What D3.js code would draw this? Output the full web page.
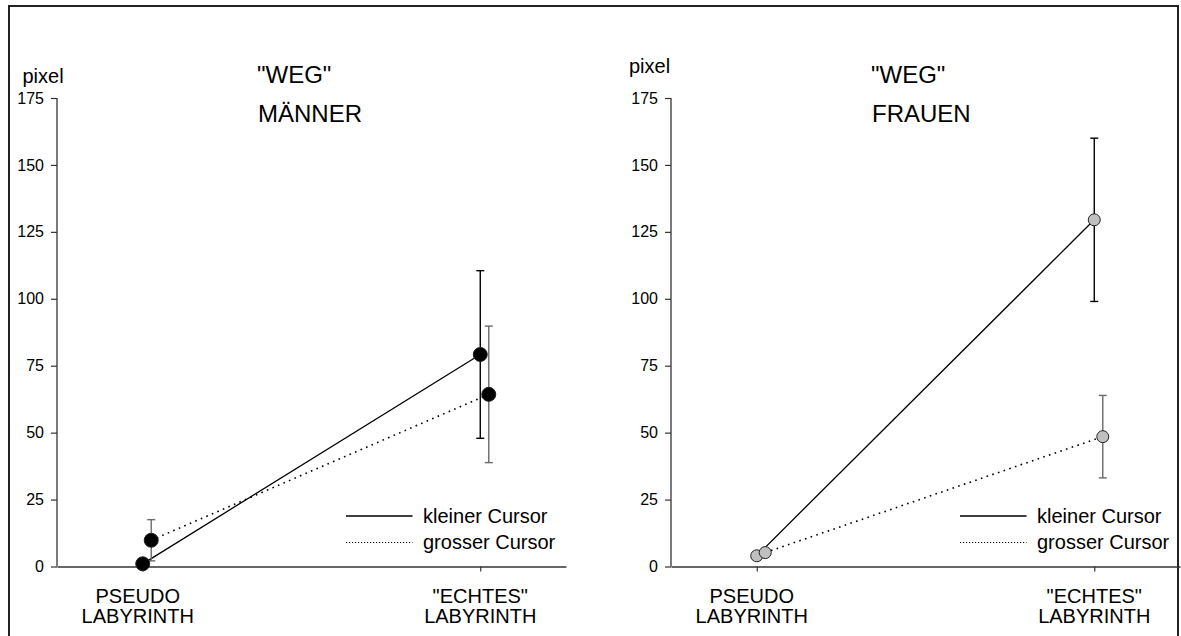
<!DOCTYPE html>
<html>
<head>
<meta charset="utf-8">
<script src="https://cdn.jsdelivr.net/npm/d3@7/dist/d3.min.js"></script>
<style>
  html, body { margin: 0; padding: 0; background: #fff; }
  svg { display: block; font-family: "Liberation Sans", Arial, sans-serif; }
</style>
</head>
<body>
<svg id="chart" width="1181" height="636"></svg>
<script>
// Conditions on the x axis (two-line labels)
const categories = ["PSEUDO", "ECHTES"];
const categoryLines = [["PSEUDO", "LABYRINTH"], ["\"ECHTES\"", "LABYRINTH"]];

// Y axis ticks
const yTicks = [0, 25, 50, 75, 100, 125, 150, 175];

// Panel titles
const panelTitles = ["MÄNNER", "FRAUEN"];
const mainTitle = "\"WEG\"";

// Series names
const seriesNames = ["kleiner Cursor", "grosser Cursor"];

// Men: mean and error per condition
const menKlein = [1.0, 79.2];
const menKleinErr = [1.2, 31.3];
const menGross = [9.8, 64.3];
const menGrossErr = [7.7, 25.5];

// Women: mean and error per condition
const womenKlein = [4.0, 129.5];
const womenKleinErr = [1.5, 30.5];
const womenGross = [5.2, 48.5];
const womenGrossErr = [1.5, 15.4];

const panels = [
  { title: panelTitles[0], x0: 57, pixelX: 22.5, pixelY: 83, fill: "#000000", r: 7,
    series: [
      { vals: menKlein, errs: menKleinErr },
      { vals: menGross, errs: menGrossErr }
    ] },
  { title: panelTitles[1], x0: 671, pixelX: 629, pixelY: 73, fill: "#c0c0c0", r: 6,
    series: [
      { vals: womenKlein, errs: womenKleinErr },
      { vals: womenGross, errs: womenGrossErr }
    ] }
];

const svg = d3.select("#chart");

// outer frame
svg.append("rect")
  .attr("x", 9).attr("y", 6)
  .attr("width", 1169).attr("height", 660)
  .attr("fill", "none").attr("stroke", "#222").attr("stroke-width", 2);

const plotW = 509;
const yTop = 98, yBottom = 566.5;
const grossOffset = 8.5;
const seriesStyle = [
  { dash: null, legendDash: null, errColor: "#000", width: 1.3 },
  { dash: "1.6,4.4", legendDash: "1.2,1.8", errColor: "#6a6a6a", width: 1.6 }
];

panels.forEach(p => {
  const g = svg.append("g").attr("transform", `translate(${p.x0},0)`);

  const x = d3.scalePoint().domain(categories).range([0, plotW]).padding(0.254);
  const y = d3.scaleLinear().domain([0, 175]).range([yBottom, yTop]);

  // y axis
  const yAxis = g.append("g")
    .call(d3.axisLeft(y).tickValues(yTicks).tickSize(6).tickPadding(7).tickSizeOuter(0));
  yAxis.select(".domain").attr("stroke", "#333").attr("stroke-width", 1.3)
    .attr("d", `M0,${yTop}V${yBottom}`);
  yAxis.selectAll(".tick line").attr("stroke", "#333").attr("stroke-width", 1.2);
  yAxis.selectAll(".tick text")
    .attr("font-size", 16).attr("fill", "#000")
    .attr("font-family", "'Liberation Sans', Arial, sans-serif");

  // x axis
  const xAxis = g.append("g").attr("transform", `translate(0,${yBottom})`)
    .call(d3.axisBottom(x).tickSize(5).tickSizeOuter(0).tickFormat(""));
  xAxis.select(".domain").attr("stroke", "#333").attr("stroke-width", 1.3);
  xAxis.selectAll(".tick line").attr("stroke", "#333").attr("stroke-width", 1.2);

  // category labels
  categories.forEach((c, i) => {
    const cx = x(c) - (i === 0 ? 5 : 0);
    const t = g.append("text")
      .attr("x", cx)
      .attr("text-anchor", "middle")
      .attr("font-size", 20).attr("fill", "#000");
    categoryLines[i].forEach((line, k) => {
      t.append("tspan").attr("x", cx).attr("y", 602.5 + k * 20).text(line);
    });
  });

  // unit label
  svg.append("text").attr("x", p.pixelX).attr("y", p.pixelY)
    .attr("font-size", 20).attr("fill", "#000").text("pixel");

  // titles
  g.append("text").attr("x", 200).attr("y", 83)
    .attr("font-size", 24).attr("fill", "#000").text(mainTitle);
  g.append("text").attr("x", 201).attr("y", 121.5)
    .attr("font-size", 24).attr("fill", "#000").text(p.title);

  const xPos = (si, i) => x(categories[i]) + (si === 1 ? grossOffset : 0);

  // connecting lines
  p.series.forEach((s, si) => {
    const line = d3.line().x((d, i) => xPos(si, i)).y(d => y(d));
    g.append("path").datum(s.vals)
      .attr("d", line)
      .attr("fill", "none").attr("stroke", "#000")
      .attr("stroke-width", seriesStyle[si].width)
      .attr("stroke-dasharray", seriesStyle[si].dash);
  });

  // error bars
  p.series.forEach((s, si) => {
    s.vals.forEach((v, i) => {
      const cx = xPos(si, i);
      const lo = y(v - s.errs[i]), hi = y(v + s.errs[i]);
      const col = seriesStyle[si].errColor;
      g.append("line").attr("x1", cx).attr("x2", cx).attr("y1", lo).attr("y2", hi)
        .attr("stroke", col).attr("stroke-width", 1.4);
      [lo, hi].forEach(yy => {
        g.append("line").attr("x1", cx - 4).attr("x2", cx + 4).attr("y1", yy).attr("y2", yy)
          .attr("stroke", col).attr("stroke-width", 1.4);
      });
    });
  });

  // markers
  p.series.forEach((s, si) => {
    g.selectAll(null).data(s.vals).enter().append("circle")
      .attr("cx", (d, i) => xPos(si, i))
      .attr("cy", d => y(d))
      .attr("r", p.r)
      .attr("fill", p.fill)
      .attr("stroke", "#222").attr("stroke-width", 1);
  });

  // legend
  const legY = [516, 542.5];
  seriesNames.forEach((name, si) => {
    g.append("line").attr("x1", 289).attr("x2", 355.5)
      .attr("y1", legY[si]).attr("y2", legY[si])
      .attr("stroke", "#000").attr("stroke-width", si === 0 ? 1.3 : 1.2)
      .attr("stroke-dasharray", seriesStyle[si].legendDash);
    g.append("text").attr("x", 366).attr("y", legY[si] + 6.5)
      .attr("font-size", 20).attr("fill", "#000").text(name);
  });
});
</script>
</body>
</html>
